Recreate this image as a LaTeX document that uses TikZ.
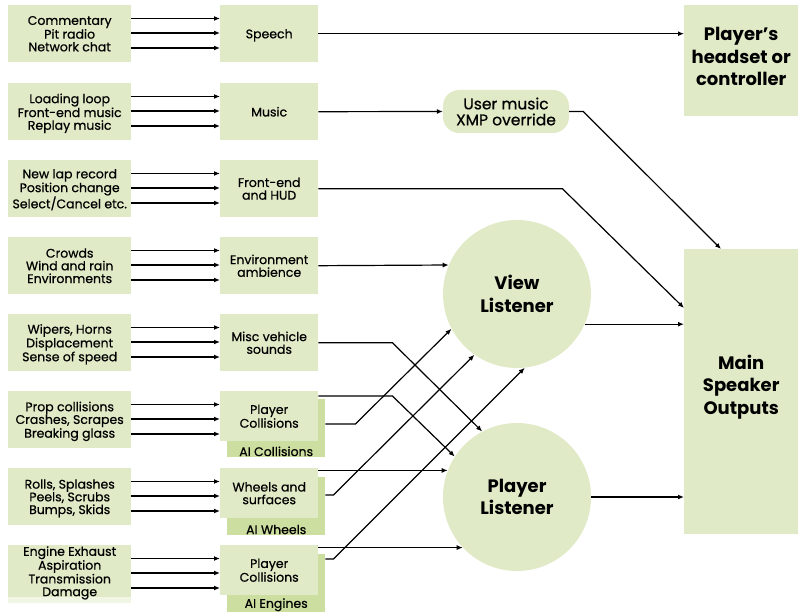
\documentclass[tikz,border=0pt]{standalone}
\usepackage{fontspec}
\setmainfont{Poppins}
\newfontfamily\medfont{Poppins}[FakeBold=0.6]
\usepackage{tikz}
\usetikzlibrary{arrows.meta}
\definecolor{leaf}{RGB}{225,234,199}
\definecolor{leafdark}{RGB}{205,223,160}
\definecolor{leafpale}{RGB}{240,245,228}
\tikzset{
  srcbox/.style={fill=leaf, minimum width=123pt, minimum height=57pt, anchor=north west,
    inner sep=0pt, align=center, font=\medfont\fontsize{12.5}{12.7}\selectfont, text depth=-2pt},
  grpbox/.style={srcbox, minimum width=98pt},
  frontbox/.style={grpbox, minimum height=50pt},
  aibox/.style={fill=leafdark, minimum width=98pt, minimum height=58pt, anchor=north west, inner sep=0pt},
  ailabel/.style={anchor=south, inner sep=1pt, font=\medfont\fontsize{12.5}{12.7}\selectfont},
  bigtext/.style={font=\bfseries\fontsize{18}{22.5}\selectfont, align=center},
  outbox/.style={fill=leaf, minimum width=114pt, anchor=north west, inner sep=0pt, bigtext},
  listener/.style={circle, fill=leaf, minimum size=148pt, inner sep=0pt, bigtext},
  arr/.style={-{Latex[length=6pt,width=5pt]}, line width=1.2pt}
}

\begin{document}
\begin{tikzpicture}[x=1pt,y=-1pt]
\useasboundingbox (0,0) rectangle (798,612);
% sources
\node[srcbox] (s1) at (8,5) {Commentary\\Pit radio\\Network chat};
\node[srcbox] (s2) at (8,83) {Loading loop\\Front-end music\\Replay music};
\node[srcbox] (s3) at (8,160) {New lap record\\Position change\\Select/Cancel etc.};
\node[srcbox] (s4) at (8,237) {Crowds\\Wind and rain\\Environments};
\node[srcbox] (s5) at (8,314) {Wipers, Horns\\Displacement\\Sense of speed};
\node[srcbox] (s6) at (8,391) {Prop collisions\\Crashes, Scrapes\\Breaking glass};
\node[srcbox] (s7) at (8,468) {Rolls, Splashes\\Peels, Scrubs\\Bumps, Skids};
\fill[leafpale] (8,597) rectangle (131,603);
\node[srcbox, minimum height=52pt] (s8) at (8,545) {Engine Exhaust\\Aspiration\\Transmission\\Damage};

% groups
\node[grpbox] (g1) at (220,5) {Speech};
\node[grpbox] (g2) at (220,83) {Music};
\node[grpbox] (g3) at (220,160) {Front-end\\and HUD};
\node[grpbox] (g4) at (220,237) {Environment\\ambience};
\node[grpbox] (g5) at (220,314) {Misc vehicle\\sounds};
\node[aibox, label={[ailabel]south:AI Collisions}] (ai6) at (227,399) {};
\node[frontbox] (g6) at (220,391) {Player\\Collisions};
\node[aibox, label={[ailabel]south:AI Wheels}] (ai7) at (227,477) {};
\node[frontbox] (g7) at (220,468) {Wheels and\\surfaces};
\node[aibox, label={[ailabel]south:AI Engines}] (ai8) at (227,554) {};
\node[frontbox] (g8) at (220,545) {Player\\Collisions};

% listeners and outputs
\node[fill=leaf, rounded corners=16pt, minimum width=126pt, minimum height=43pt, inner sep=0pt,
  align=center, font=\medfont\fontsize{15.5}{16}\selectfont] (user) at (506,111.5) {User music\\XMP override};
\node[listener] (view) at (517,294) {View\\Listener};
\node[listener] (player) at (517,497) {Player\\Listener};
\node[outbox, minimum height=111pt, text depth=8pt] (headset) at (684,5) {Player's\\headset or\\controller};
\node[outbox, minimum height=285pt, text depth=14pt] (main) at (684,249) {Main\\Speaker\\Outputs};

% arrows
\foreach \r in {1,...,8}
  \foreach \d in {13.5,28,43}
    \draw[arr] ([yshift=-\d pt]s\r.north east) -- ([yshift=-\d pt]g\r.north west);

\draw[arr] (g1.east) -- (g1.east -| headset.west);
\draw[arr] (g2.east) -- (user.west);
\draw[arr] (user.east) -- ++(14,0) -- ([xshift=37pt]main.north west);
\draw[arr] (g3.east) -- ++(244,0) -- ([yshift=-59pt]main.north west);
\draw[arr] (g4.east) -- (view.157);
\draw[arr] (view.-24) -- (view.-24 -| main.west);
\draw[arr] (player.east) -- (player.east -| main.west);
\draw[arr] (g5.east) -- ++(74,0) -- (player.118);
\draw[arr] ([yshift=-5pt]g6.north east) -- ++(74,0) -- (player.147);
\draw[arr] ([yshift=-25pt]ai6.north east) -- ++(30,0) -- (view.208);
\draw[arr] (player.159 -| g7.east) -- (player.159);
\draw[arr] ([yshift=-18pt]ai7.north east) -- ++(8,0) -- (view.235);
\draw[arr] (player.223 -| g8.east) -- (player.223);
\draw[arr] ([yshift=-5pt]ai8.north east) -- ++(8,0) -- (view.276);
\end{tikzpicture}
\end{document}
